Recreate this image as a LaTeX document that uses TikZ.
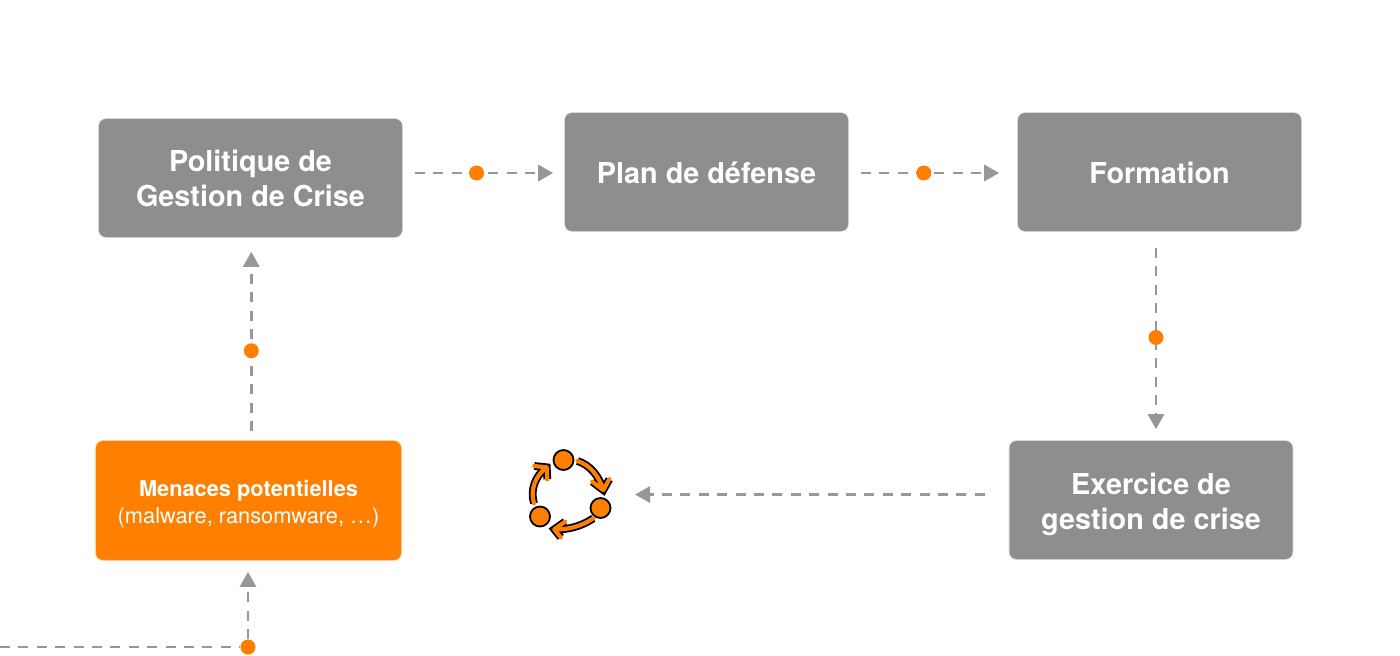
\documentclass[tikz,border=0pt]{standalone}
\usepackage{fontspec}
\setmainfont{TeX Gyre Heros}
\usetikzlibrary{arrows.meta}
\definecolor{boxgrey}{HTML}{8E8E8E}
\definecolor{linegrey}{HTML}{979797}
\definecolor{menaceorange}{HTML}{FF7F00}
\newcommand{\lifted}[1]{\rule{0pt}{#1}}
\tikzset{
  stagebox/.style={fill=boxgrey, draw=boxgrey, draw opacity=0.35, line width=0.8pt,
    rounded corners=3.5pt, inner sep=0pt, align=center,
    text=white, font=\bfseries\fontsize{14.4}{17.5}\selectfont,
    minimum width=141.5pt, minimum height=59pt},
  flow/.style={draw=linegrey, line width=1.45pt, dash pattern=on 5pt off 4.2pt,
    -{Triangle[length=7.5pt,width=8pt]}},
  flowline/.style={draw=linegrey, line width=1.45pt, dash pattern=on 5pt off 4.2pt},
  flowdot/.style={circle, fill=menaceorange, inner sep=0pt, minimum size=7.5pt},
  ringdot/.style={circle, fill=menaceorange, draw=black, line width=0.9pt, inner sep=0pt, minimum size=10pt},
  ringarrow/.style={draw=menaceorange, line width=2.1pt, line cap=round, line join=round,
    preaction={draw=black, line width=3.9pt}},
}
\begin{document}
\begin{tikzpicture}[x=0.5pt, y=-0.5pt]
  \useasboundingbox (0, 0) rectangle (1400, 655);
  % boxes
  \node [stagebox, minimum width=151.5pt] (politique) at (250.5, 178) {\lifted{11.5pt}Politique de\\Gestion de Crise};
  \node [stagebox] (plan) at (706.5, 172) {\lifted{11.5pt}Plan de défense};
  \node [stagebox] (formation) at (1159.5, 172) {\lifted{11.5pt}Formation};
  \node [stagebox] (exercice) at (1151, 500) {\lifted{15.5pt}Exercice de\\gestion de crise};
  \node [stagebox, fill=menaceorange, draw=menaceorange, minimum width=152.5pt, minimum height=59.5pt,
    font=\fontsize{10.9}{13.5}\selectfont] (menaces) at (248.5, 500.5)
    {\lifted{12pt}\textbf{Menaces potentielles}\\(malware, ransomware, …)};
  % cycle icon
  \coordinate (cycle) at (635, 494.5);
  \node [ringdot] (ringtop) at (563.5, 460) {};
  \node [ringdot] (ringright) at (600.5, 508) {};
  \node [ringdot] (ringleft) at (540, 516.5) {};
  \path [ringarrow] (577.5, 461) .. controls (590, 465) and (599, 476) .. (603.3, 490)
    (592.3, 481.7) -- (603.3, 490) -- (609.3, 479.3);
  \path [ringarrow] (593.3, 518.3) .. controls (582, 526) and (568, 530) .. (554.3, 529.3)
    (565, 521.7) -- (554.3, 529.3) -- (560.7, 537.3);
  \path [ringarrow] (534, 503.3) .. controls (530, 490) and (535, 476) .. (546.7, 467.3)
    (534.3, 466) -- (546.7, 467.3) -- (547.3, 479.3);
  % connectors
  \draw [flow, shorten <=6pt, shorten >=5.5pt] ([yshift=-0.5pt]politique.east |- plan.west)
    -- node [flowdot, pos=0.457] (dotplan) {} ([yshift=-0.5pt]plan.west);
  \draw [flow, shorten <=6pt, shorten >=9pt] ([yshift=-0.5pt]plan.east)
    -- node [flowdot, pos=0.445] (dotformation) {} ([yshift=-0.5pt]formation.west);
  \draw [flow, shorten <=8pt, shorten >=5.5pt] ([xshift=-1.75pt]formation.south)
    -- node [flowdot, pos=0.507] (dotexercice) {} ([xshift=-1.75pt]formation.south |- exercice.north);
  \draw [flow, shorten <=12pt] (exercice.west |- cycle) -- (cycle);
  \draw [flow, shorten <=4.5pt, shorten >=7pt] ([xshift=0.4pt]politique.south |- menaces.north)
    -- node [flowdot, pos=0.442] (dotpolitique) {} ([xshift=0.4pt]politique.south);
  % entry at the bottom
  \coordinate (entry) at (0, 647);
  \node [flowdot] (dotentry) at (248, 647) {};
  \draw [flowline] (entry) -- (dotentry);
  \draw [flow, shorten >=5.5pt] (dotentry) -- (dotentry |- menaces.south);
\end{tikzpicture}
\end{document}
